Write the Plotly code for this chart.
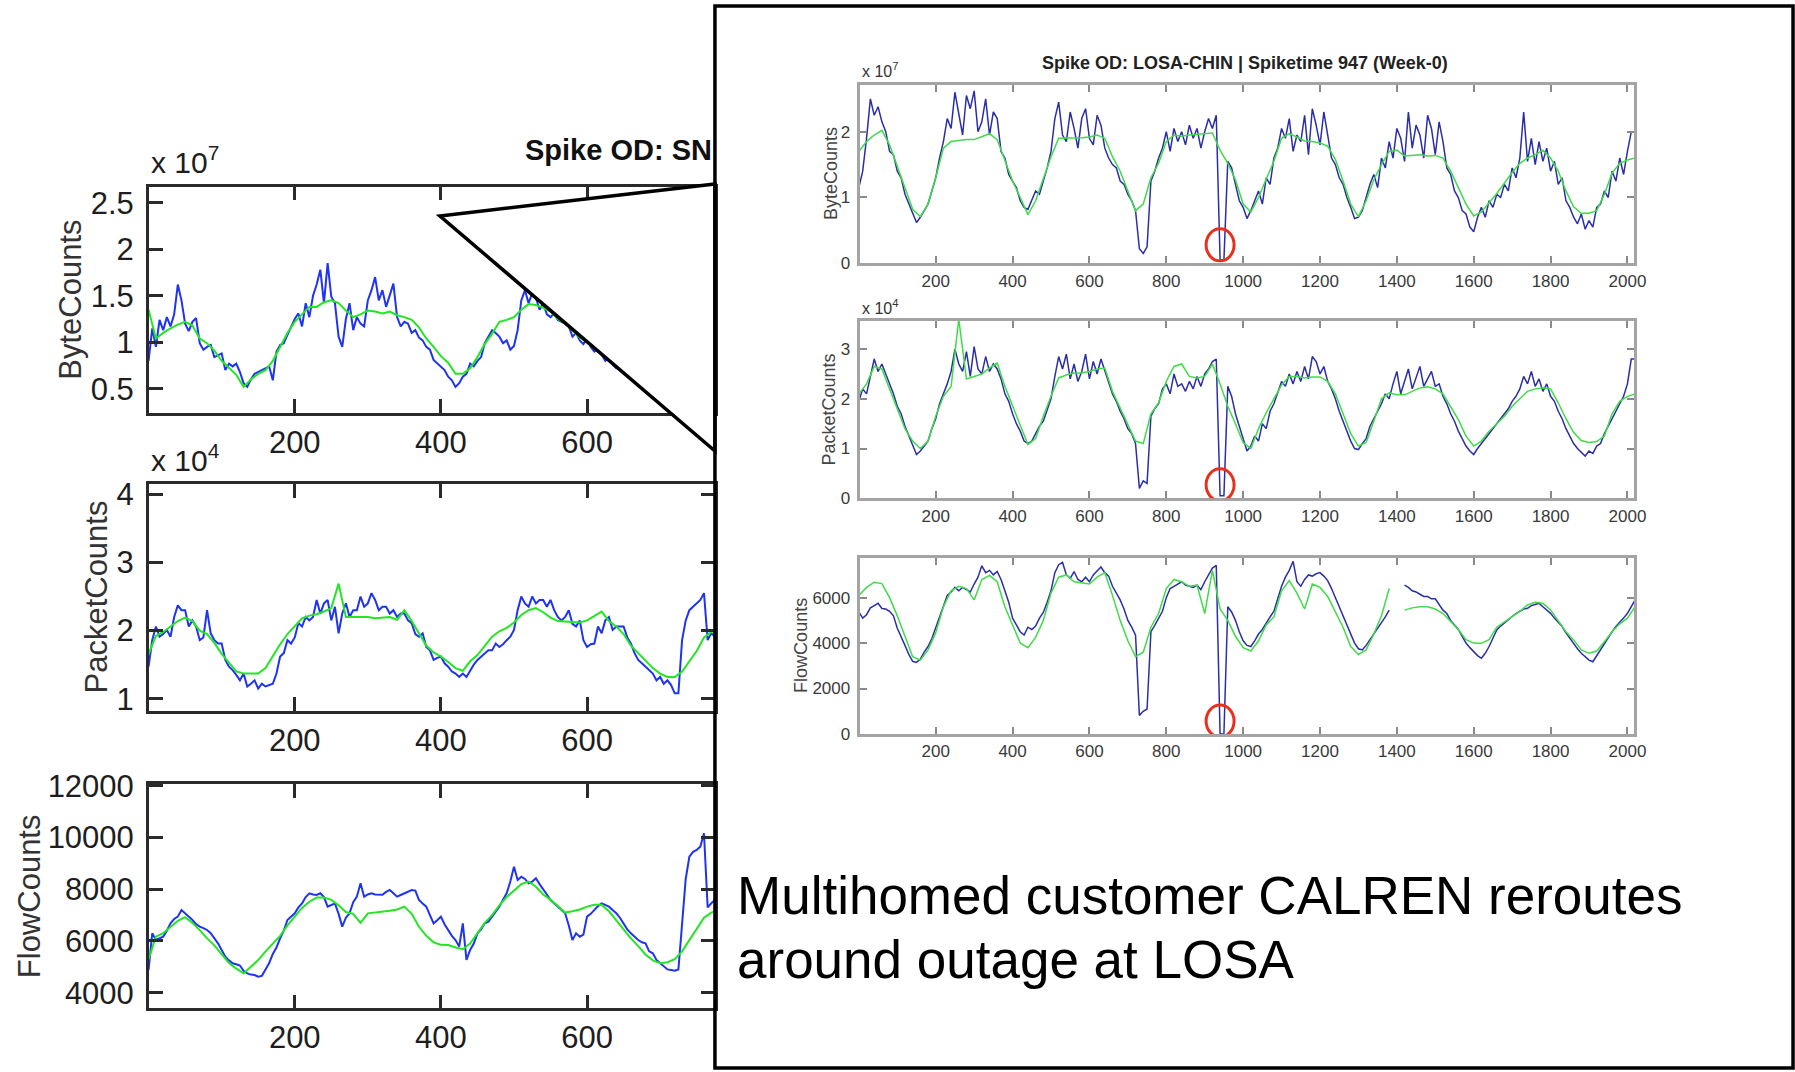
import plotly.graph_objects as go

FONT = "Liberation Sans, Arial, sans-serif"

# ---------------- left OD (traffic shifted onto it), time bins 0..775 ----------------
LEFT_BLUE_STEP = 5
LEFT_GREEN_STEP = 10

# ByteCounts (x 10^7)
left_byte_actual = [
    0.80, 1.15, 0.95, 1.24, 1.13, 1.27, 1.17, 1.30, 1.62, 1.45,
    1.20, 1.12, 1.22, 1.26, 0.99, 0.92, 0.95, 0.97, 0.84, 0.86,
    0.88, 0.70, 0.77, 0.74, 0.77, 0.68, 0.56, 0.52, 0.60, 0.66,
    0.68, 0.70, 0.72, 0.74, 0.59, 0.90, 0.97, 0.99, 1.08, 1.17,
    1.25, 1.31, 1.17, 1.42, 1.27, 1.50, 1.62, 1.78, 1.42, 1.85,
    1.49, 1.42, 1.06, 0.95, 1.25, 1.42, 1.13, 1.27, 1.20, 1.17,
    1.45, 1.56, 1.70, 1.45, 1.56, 1.38, 1.50, 1.63, 1.27, 1.17,
    1.22, 1.20, 1.10, 1.13, 1.05, 1.02, 0.95, 0.92, 0.81, 0.77,
    0.74, 0.70, 0.63, 0.59, 0.52, 0.56, 0.63, 0.66, 0.77, 0.74,
    0.80, 0.84, 0.99, 1.06, 1.13, 1.10, 1.06, 0.99, 1.02, 0.92,
    0.96, 1.13, 1.45, 1.56, 1.42, 1.53, 1.48, 1.35, 1.42, 1.30,
    1.27, 1.31, 1.24, 1.22, 1.20, 1.17, 1.06, 1.10, 1.02, 0.98,
    1.04, 0.95, 0.90, 0.93, 0.86, 0.80, 0.84, 0.76, 0.72, 0.75,
    0.68, 0.70, 0.64, 0.66, 0.60, 0.63, 0.58, 0.60, 0.55, 0.57,
    0.52, 0.55, 0.50, 0.53, 0.48, 0.52, 0.80, 1.10, 1.30, 1.35,
    1.40, 1.45, 1.20, 1.10, 1.15, 1.18,
]
left_byte_predicted = [
    1.35, 1.04, 1.10, 1.15, 1.19, 1.22, 1.18, 1.04, 0.99, 0.91,
    0.80, 0.72, 0.65, 0.52, 0.60, 0.66, 0.70, 0.80, 0.95, 1.10,
    1.22, 1.30, 1.38, 1.38, 1.43, 1.45, 1.42, 1.34, 1.27, 1.30,
    1.34, 1.33, 1.31, 1.33, 1.29, 1.27, 1.24, 1.16, 1.04, 0.95,
    0.85, 0.78, 0.66, 0.66, 0.72, 0.84, 0.98, 1.09, 1.22, 1.24,
    1.27, 1.35, 1.41, 1.40, 1.37, 1.33, 1.25, 1.20, 1.12, 1.05,
    1.00, 0.95, 0.90, 0.85, 0.80, 0.74, 0.70, 0.66, 0.62, 0.60,
    0.58, 0.55, 0.54, 0.62, 0.72, 0.85, 0.95, 1.02, 1.08,
]

# PacketCounts (x 10^4)
left_packet_actual = [
    1.47, 1.86, 2.06, 1.91, 1.95, 2.01, 1.91, 2.20, 2.37, 2.30,
    2.30, 2.06, 2.15, 2.06, 1.86, 1.90, 2.30, 1.96, 1.86, 1.81,
    1.81, 1.57, 1.47, 1.42, 1.35, 1.27, 1.37, 1.18, 1.22, 1.27,
    1.15, 1.22, 1.18, 1.20, 1.22, 1.37, 1.62, 1.67, 1.86, 1.81,
    1.90, 2.11, 2.06, 2.20, 2.15, 2.20, 2.45, 2.25, 2.40, 2.45,
    2.15, 2.35, 1.96, 2.25, 2.40, 2.20, 2.30, 2.30, 2.50, 2.35,
    2.40, 2.55, 2.45, 2.30, 2.35, 2.35, 2.25, 2.30, 2.20, 2.25,
    2.25, 2.15, 2.11, 1.95, 1.91, 1.96, 1.76, 1.71, 1.57, 1.60,
    1.62, 1.52, 1.47, 1.40, 1.37, 1.32, 1.37, 1.32, 1.42, 1.50,
    1.57, 1.62, 1.67, 1.71, 1.71, 1.81, 1.76, 1.80, 1.86, 1.91,
    2.01, 2.30, 2.50, 2.40, 2.35, 2.50, 2.40, 2.45, 2.45, 2.35,
    2.45, 2.30, 2.20, 2.15, 2.20, 2.30, 2.10, 2.06, 2.15, 1.86,
    1.76, 1.80, 1.81, 2.06, 1.96, 2.15, 2.20, 2.01, 2.06, 2.06,
    2.06, 1.90, 1.81, 1.67, 1.57, 1.52, 1.47, 1.42, 1.37, 1.27,
    1.32, 1.22, 1.27, 1.20, 1.08, 1.08, 1.86, 2.15, 2.30, 2.35,
    2.40, 2.45, 2.55, 1.86, 1.96, 1.91,
]
left_packet_predicted = [
    1.66, 1.92, 1.98, 2.06, 2.14, 2.19, 2.14, 2.00, 1.95, 1.82,
    1.66, 1.53, 1.40, 1.37, 1.37, 1.37, 1.45, 1.63, 1.80, 1.95,
    2.07, 2.18, 2.22, 2.24, 2.28, 2.33, 2.69, 2.20, 2.20, 2.20,
    2.20, 2.18, 2.19, 2.20, 2.16, 2.30, 2.14, 1.95, 1.78, 1.68,
    1.62, 1.54, 1.45, 1.41, 1.55, 1.64, 1.78, 1.91, 1.99, 2.04,
    2.12, 2.23, 2.30, 2.33, 2.27, 2.19, 2.14, 2.13, 2.12, 2.12,
    2.15, 2.22, 2.28, 2.14, 2.06, 1.95, 1.78, 1.67, 1.56, 1.45,
    1.37, 1.32, 1.32, 1.40, 1.55, 1.70, 1.90, 1.98, 2.00,
]

# FlowCounts
left_flow_actual = [
    4878, 6297, 6039, 6100, 6168, 6400, 6684, 6850, 6942, 7200,
    7071, 6950, 6813, 6650, 6555, 6500, 6426, 6300, 6100, 5910,
    5650, 5394, 5250, 5136, 5100, 5050, 4850, 4748, 4700, 4684,
    4619, 4650, 4900, 5150, 5500, 5750, 6100, 6400, 6813, 6950,
    7071, 7300, 7458, 7700, 7845, 7800, 7781, 7845, 7700, 7329,
    7400, 7458, 7050, 6555, 6900, 7071, 7500, 7716, 8232, 7716,
    7800, 7845, 7800, 7781, 7790, 7900, 7974, 7850, 7716, 7780,
    7845, 7900, 7974, 7950, 7587, 7450, 7329, 7000, 6684, 6800,
    6942, 6650, 6426, 6200, 6039, 5781, 6684, 5265, 5652, 5900,
    6297, 6450, 6684, 6750, 6942, 7150, 7329, 7600, 7845, 8300,
    8877, 8361, 8490, 8400, 8232, 8300, 8426, 8200, 7974, 7800,
    7587, 7450, 7329, 7200, 7071, 6600, 6039, 6297, 6168, 6250,
    6942, 7050, 7200, 7350, 7458, 7400, 7329, 7200, 7071, 6900,
    6684, 6450, 6297, 6150, 6039, 5950, 5910, 5600, 5523, 5265,
    5150, 5006, 4900, 4878, 4850, 4900, 6800, 8400, 9265, 9450,
    9523, 9652, 10168, 7300, 7458, 7587,
]
left_flow_predicted = [
    5300, 6168, 6300, 6555, 6780, 6920, 6700, 6420, 6100, 5830,
    5500, 5150, 4930, 4750, 5000, 5260, 5600, 5900, 6200, 6600,
    6950, 7280, 7520, 7680, 7680, 7590, 7380, 7120, 7050, 6700,
    7070, 7100, 7130, 7170, 7220, 7330, 7050, 6550, 6200, 5950,
    5850, 5840, 5750, 5680, 5900, 6300, 6700, 7000, 7380, 7700,
    7970, 8200, 8300, 8100, 7800, 7600, 7350, 7100, 7150, 7220,
    7330, 7400, 7400, 7150, 6800, 6450, 6100, 5800, 5480, 5250,
    5140, 5180, 5300, 5600, 6050, 6500, 6900, 7100, 7200,
]

# ---------------- LOSA-CHIN OD, one week of bins 0..2020 ----------------
RIGHT_BLUE_STEP = 10
RIGHT_GREEN_STEP = 20
SPIKE_TIME = 947

# ByteCounts (x 10^7)
right_byte_actual = [
    1.15, 1.40, 1.90, 2.50, 2.25, 2.38, 2.15, 2.00, 1.70, 1.65,
    1.40, 1.30, 1.05, 0.90, 0.75, 0.62, 0.70, 0.80, 0.90, 1.10,
    1.30, 1.60, 1.85, 2.20, 2.05, 2.60, 2.25, 1.95, 2.55, 2.35,
    2.62, 2.00, 2.15, 2.50, 1.95, 2.30, 2.20, 1.70, 1.60, 1.35,
    1.25, 1.15, 0.95, 0.85, 0.82, 0.95, 1.10, 1.05, 1.25, 1.45,
    1.70, 2.20, 2.45, 1.95, 1.85, 2.30, 2.05, 1.75, 2.20, 2.35,
    1.90, 1.80, 2.25, 2.10, 1.75, 1.60, 1.50, 1.45, 1.25, 1.20,
    1.05, 0.95, 0.80, 0.22, 0.15, 0.25, 1.25, 1.40, 1.60, 1.75,
    2.00, 1.70, 2.05, 1.85, 2.00, 1.80, 2.10, 1.90, 2.05, 1.75,
    2.00, 2.20, 2.05, 2.25, 0.05, 0.05, 1.55, 1.45, 1.20, 0.95,
    0.85, 0.68, 0.80, 0.95, 1.10, 0.90, 1.30, 1.20, 1.60, 1.75,
    2.05, 1.90, 2.20, 1.70, 1.95, 1.85, 2.25, 1.65, 2.35, 2.10,
    1.80, 2.30, 1.95, 1.60, 1.50, 1.30, 1.20, 1.00, 0.85, 0.68,
    0.70, 0.80, 1.00, 1.20, 1.35, 1.15, 1.60, 1.45, 1.85, 1.60,
    2.05, 1.90, 1.55, 2.30, 1.75, 2.10, 1.95, 1.60, 2.25, 2.05,
    1.65, 2.15, 1.85, 1.45, 1.35, 1.10, 1.00, 0.80, 0.75, 0.55,
    0.48, 0.70, 0.85, 0.70, 0.95, 0.85, 1.05, 1.00, 1.20, 1.10,
    1.45, 1.30, 1.60, 2.30, 1.55, 1.90, 1.50, 1.85, 1.55, 1.75,
    1.40, 1.55, 1.20, 1.30, 0.95, 0.85, 0.70, 0.60, 0.75, 0.52,
    0.65, 0.55, 0.85, 0.90, 1.10, 1.00, 1.40, 1.25, 1.60, 1.35,
    1.70, 2.00, 2.00,
]
right_byte_predicted = [
    1.70, 1.85, 1.95, 2.02, 1.80, 1.47, 1.14, 0.82, 0.71, 0.90,
    1.30, 1.75, 1.85, 1.87, 1.88, 1.88, 1.92, 1.97, 1.88, 1.55,
    1.25, 1.00, 0.74, 0.95, 1.28, 1.62, 1.90, 1.90, 1.90, 1.91,
    1.92, 1.95, 1.90, 1.62, 1.40, 1.11, 0.80, 0.90, 1.30, 1.52,
    1.85, 1.95, 1.93, 1.95, 1.96, 1.97, 1.98, 1.72, 1.52, 1.27,
    0.90, 0.78, 1.00, 1.28, 1.55, 1.90, 1.97, 1.92, 1.86, 1.85,
    1.83, 1.78, 1.58, 1.25, 0.90, 0.71, 0.95, 1.27, 1.50, 1.70,
    1.72, 1.63, 1.64, 1.65, 1.63, 1.64, 1.60, 1.40, 1.15, 0.90,
    0.72, 0.78, 0.92, 1.06, 1.22, 1.38, 1.52, 1.60, 1.65, 1.72,
    1.60, 1.40, 1.10, 0.86, 0.76, 0.76, 0.80, 1.05, 1.37, 1.52,
    1.57, 1.60,
]

# PacketCounts (x 10^4)
right_packet_actual = [
    1.95, 2.20, 2.10, 2.45, 2.80, 2.55, 2.70, 2.50, 2.30, 2.10,
    1.85, 1.70, 1.45, 1.25, 1.05, 0.88, 0.95, 1.05, 1.15, 1.40,
    1.60, 1.90, 2.10, 2.30, 2.55, 3.00, 2.70, 2.55, 2.95, 2.45,
    3.05, 2.60, 2.50, 2.85, 2.55, 2.70, 2.60, 2.40, 2.10, 1.95,
    1.70, 1.50, 1.35, 1.15, 1.10, 1.15, 1.30, 1.45, 1.55, 1.80,
    2.00, 2.45, 2.85, 2.60, 2.90, 2.40, 2.70, 2.35, 2.55, 2.90,
    2.40, 2.75, 2.50, 2.80, 2.55, 2.30, 2.10, 1.95, 1.75, 1.60,
    1.40, 1.30, 1.10, 0.20, 0.35, 0.30, 1.65, 1.80, 1.90, 2.20,
    2.30, 2.10, 2.50, 2.25, 2.30, 2.15, 2.35, 2.20, 2.45, 2.25,
    2.50, 2.60, 2.75, 2.80, 0.05, 0.05, 2.25, 2.05, 1.70, 1.45,
    1.20, 0.95, 1.05, 1.25, 1.15, 1.50, 1.40, 1.75, 1.90, 2.15,
    2.35, 2.25, 2.50, 2.30, 2.55, 2.35, 2.65, 2.40, 2.85, 2.75,
    2.50, 2.65, 2.35, 2.20, 2.00, 1.75, 1.55, 1.35, 1.15, 1.00,
    0.98, 1.10, 1.20, 1.45, 1.60, 1.75, 1.90, 2.10, 2.00, 2.30,
    2.55, 2.10, 2.35, 2.60, 2.20, 2.45, 2.65, 2.25, 2.40, 2.55,
    2.25, 2.30, 2.05, 1.90, 1.70, 1.55, 1.35, 1.20, 1.05, 0.95,
    0.88, 1.00, 1.10, 1.20, 1.30, 1.40, 1.50, 1.60, 1.70, 1.80,
    1.95, 2.05, 2.20, 2.45, 2.30, 2.55, 2.25, 2.40, 2.15, 2.30,
    2.05, 1.95, 1.75, 1.60, 1.40, 1.25, 1.10, 1.00, 0.92, 0.85,
    0.95, 0.90, 1.05, 1.10, 1.30, 1.45, 1.60, 1.75, 1.90, 2.05,
    2.30, 2.80, 2.80,
]
right_packet_predicted = [
    2.10, 2.30, 2.65, 2.60, 2.20, 1.80, 1.40, 1.15, 1.00, 1.15,
    1.65, 2.05, 2.25, 3.60, 2.40, 2.45, 2.50, 2.62, 2.72, 2.25,
    1.85, 1.45, 1.08, 1.20, 1.65, 2.05, 2.42, 2.48, 2.52, 2.52,
    2.55, 2.60, 2.62, 2.15, 1.82, 1.50, 1.15, 1.10, 1.70, 1.92,
    2.35, 2.65, 2.70, 2.45, 2.42, 2.45, 2.70, 2.30, 1.85, 1.50,
    1.12, 1.00, 1.40, 1.72, 2.00, 2.28, 2.45, 2.45, 2.42, 2.44,
    2.44, 2.35, 2.10, 1.70, 1.30, 1.05, 1.12, 1.55, 2.00, 2.12,
    2.08, 2.08, 2.15, 2.22, 2.24, 2.20, 2.10, 1.85, 1.58, 1.25,
    1.05, 1.15, 1.35, 1.50, 1.65, 1.85, 2.00, 2.15, 2.20, 2.22,
    2.20, 1.92, 1.60, 1.32, 1.16, 1.12, 1.14, 1.25, 1.70, 1.95,
    2.05, 2.10,
]

# FlowCounts (None = missing measurement bins)
right_flow_actual = [
    5370, 5100, 5250, 5550, 5650, 5750, 5520, 5500, 5400, 5200,
    4650, 4300, 3900, 3500, 3200, 3150, 3300, 3600, 3850, 4200,
    4700, 5200, 5700, 6100, 6250, 6450, 6300, 6450, 6350, 6250,
    6600, 6900, 7400, 7100, 7200, 7000, 7150, 6800, 6300, 5800,
    5100, 4800, 4500, 4350, 4700, 4600, 4750, 5100, 5350, 5800,
    6300, 7100, 7450, 7550, 7000, 6850, 7150, 6800, 6700, 6900,
    6700, 7000, 7200, 7350, 7100, 6950, 6500, 6200, 5900, 5500,
    5000, 4700, 4350, 820, 1000, 1100, 4500, 4780, 5100, 5400,
    6000, 6400, 6500, 6600, 6700, 6550, 6500, 6450, 6550, 6350,
    6700, 7000, 7300, 7420, 0, 0, 5600, 5370, 5000, 4500,
    4100, 3900, 3850, 4100, 4400, 4600, 4900, 5150, 5400, 6000,
    6500, 6900, 7200, 7600, 6700, 6500, 6800, 7000, 6950, 7050,
    7100, 6950, 6750, 6400, 6000, 5600, 5200, 4800, 4400, 4000,
    3750, 3700, 3900, 4150, 4400, 4600, 4900, 5150, 5450, None,
    None, None, 6550, 6450, 6300, 6250, 6150, 6050, 6050, 5950,
    5950, 5700, 5450, 5300, 5000, 4800, 4600, 4300, 4000, 3800,
    3620, 3450, 3330, 3550, 3850, 4200, 4580, 4750, 4900, 5050,
    5170, 5300, 5400, 5500, 5530, 5650, 5700, 5750, 5600, 5450,
    5310, 5100, 4900, 4730, 4450, 4200, 3990, 3750, 3550, 3400,
    3250, 3180, 3450, 3750, 3990, 4250, 4500, 4730, 4900, 5100,
    5310, 5600, 5900,
]
right_flow_predicted = [
    6100, 6450, 6680, 6620, 6000, 5200, 4300, 3400, 3250, 3700,
    4450, 5600, 6300, 6500, 6400, 5900, 6800, 6980, 6700, 5600,
    4800, 4000, 3800, 4250, 5000, 6200, 6900, 7000, 6700, 6650,
    6600, 6900, 7100, 6100, 5000, 4100, 3400, 3600, 4700, 5300,
    6400, 6800, 6700, 6500, 6550, 5300, 7200, 5500, 5000, 4300,
    3800, 3650, 4100, 4800, 5150, 6300, 6750, 6200, 5500, 6600,
    6450, 6050, 5400, 4700, 3850, 3500, 3700, 4400, 5200, 6400,
    None, 5450, 5550, 5600, 5600, 5500, 5300, 4950, 4600, 4150,
    4000, 3990, 4150, 4700, 4950, 5170, 5400, 5680, 5800, 5750,
    5460, 5000, 4500, 4140, 3700, 3550, 3650, 4060, 4500, 4850,
    5100, 5600,
]

# highlighted outage near the spike time: (panel, count value at circle centre)
spike_marks = [("4", 0.28), ("5", 0.27), ("6", 570)]
SPIKE_MARK_X = 940

LEFT_BLUE, LEFT_GREEN = "#1f33f2", "#22e622"
RIGHT_BLUE, RIGHT_GREEN = "#2b2fa6", "#3fdc48"


def grid(values, step):
    return [i * step for i in range(len(values))]


fig = go.Figure()


def add_pair(actual, predicted, bstep, gstep, ax, blue, green, width):
    fig.add_trace(go.Scatter(x=grid(actual, bstep), y=actual, mode="lines",
                             line=dict(color=blue, width=width),
                             xaxis="x" + ax, yaxis="y" + ax, connectgaps=False,
                             hoverinfo="skip"))
    fig.add_trace(go.Scatter(x=grid(predicted, gstep), y=predicted, mode="lines",
                             line=dict(color=green, width=width),
                             xaxis="x" + ax, yaxis="y" + ax, connectgaps=False,
                             hoverinfo="skip"))


add_pair(left_byte_actual, left_byte_predicted, LEFT_BLUE_STEP, LEFT_GREEN_STEP, "", LEFT_BLUE, LEFT_GREEN, 2)
add_pair(left_packet_actual, left_packet_predicted, LEFT_BLUE_STEP, LEFT_GREEN_STEP, "2", LEFT_BLUE, LEFT_GREEN, 2)
add_pair(left_flow_actual, left_flow_predicted, LEFT_BLUE_STEP, LEFT_GREEN_STEP, "3", LEFT_BLUE, LEFT_GREEN, 2)
add_pair(right_byte_actual, right_byte_predicted, RIGHT_BLUE_STEP, RIGHT_GREEN_STEP, "4", RIGHT_BLUE, RIGHT_GREEN, 1.5)
add_pair(right_packet_actual, right_packet_predicted, RIGHT_BLUE_STEP, RIGHT_GREEN_STEP, "5", RIGHT_BLUE, RIGHT_GREEN, 1.5)
add_pair(right_flow_actual, right_flow_predicted, RIGHT_BLUE_STEP, RIGHT_GREEN_STEP, "6", RIGHT_BLUE, RIGHT_GREEN, 1.5)

LX = [0.0829, 0.3983]
RX = [0.4789, 0.9105]

left_axis = dict(showline=True, linecolor="#2a2a2a", linewidth=2.5, mirror="allticks",
                 ticks="inside", ticklen=14, tickwidth=2.5, tickcolor="#2a2a2a",
                 showgrid=False, zeroline=False, automargin=False,
                 tickfont=dict(family=FONT, size=31, color="#1e1e1e"))
right_axis = dict(showline=True, linecolor="#a4a4a4", linewidth=3, mirror="allticks",
                  ticks="inside", ticklen=7, tickwidth=1.5, tickcolor="#8a8a8a",
                  showgrid=False, zeroline=False, automargin=False,
                  tickfont=dict(family=FONT, size=17, color="#3a3a3a"))

layout_axes = {}
left_rows = [("", [0.615, 0.8258], [0.242, 2.672], [0.5, 1, 1.5, 2, 2.5], ["0.5", "1", "1.5", "2", "2.5"]),
             ("2", [0.337, 0.5482], [0.824, 4.147], [1, 2, 3, 4], ["1", "2", "3", "4"]),
             ("3", [0.0594, 0.2687], [3394, 12077], [4000, 6000, 8000, 10000, 12000],
              ["4000", "6000", "8000", "10000", "12000"])]
for ax, ydom, yr, tv, tt in left_rows:
    layout_axes["xaxis" + ax] = dict(left_axis, domain=LX, anchor="y" + ax, range=[0.3, 775],
                                     tickvals=[200, 400, 600], ticktext=["200", "400", "600"])
    layout_axes["yaxis" + ax] = dict(left_axis, domain=ydom, anchor="x" + ax, range=yr,
                                     tickvals=tv, ticktext=tt, ticklabelstandoff=6)

right_rows = [("4", [0.7544, 0.9207], [0, 2.71], [0, 1, 2]),
              ("5", [0.5352, 0.7008], [0, 3.57], [0, 1, 2, 3]),
              ("6", [0.3153, 0.4798], [0, 7760], [0, 2000, 4000, 6000])]
xt = list(range(200, 2001, 200))
for ax, ydom, yr, tv in right_rows:
    layout_axes["xaxis" + ax] = dict(right_axis, domain=RX, anchor="y" + ax, range=[2, 2018],
                                     tickvals=xt, ticktext=[str(v) for v in xt])
    layout_axes["yaxis" + ax] = dict(right_axis, domain=ydom, anchor="x" + ax, range=yr,
                                     tickvals=tv, ticktext=[str(v) for v in tv], ticklabelstandoff=3)

annotations = []


def note(text, x, y, size, xanchor="center", yanchor="middle", angle=0, bold=False, color="#1e1e1e"):
    if bold:
        text = "<b>" + text + "</b>"
    annotations.append(dict(text=text, x=x, y=y, xref="paper", yref="paper", showarrow=False,
                            xanchor=xanchor, yanchor=yanchor, textangle=angle,
                            font=dict(family=FONT, size=size, color=color)))


# left panel labels
note("x 10<sup>7</sup>", 0.0829, 0.8507, 30, xanchor="left")
note("x 10<sup>4</sup>", 0.0829, 0.5728, 30, xanchor="left")
note("Spike OD: SN", 0.3975, 0.860, 29, xanchor="right", bold=True, color="#111")
note("ByteCounts", 71 / 1795, 0.7204, 31, angle=-90, color="#333")
note("PacketCounts", 97 / 1795, 0.4426, 31, angle=-90, color="#333")
note("FlowCounts", 29 / 1795, 0.1640, 31, angle=-90, color="#333")

# inset panel labels
note("Spike OD: LOSA-CHIN | Spiketime 947 (Week-0)", 1245 / 1795, 0.9412, 18, bold=True, color="#222")
note("x 10<sup>7</sup>", 860 / 1795, 0.9347, 16, xanchor="left", color="#333")
note("x 10<sup>4</sup>", 860 / 1795, 0.7139, 16, xanchor="left", color="#333")
note("ByteCounts", 831 / 1795, 0.8376, 18, angle=-90, color="#444")
note("PacketCounts", 829 / 1795, 0.6180, 18, angle=-90, color="#444")
note("FlowCounts", 801 / 1795, 0.3975, 18, angle=-90, color="#444")

note("Multihomed customer CALREN reroutes", 735 / 1795, 0.1642, 53, xanchor="left", color="#000")
note("around outage at LOSA", 735 / 1795, 0.1048, 53, xanchor="left", color="#000")

shapes = [
    # callout wedge linking the left panel to the inset
    dict(type="path", path="M 0.2451,0.7985 L 0.3983,0.8284 L 0.3983,0.5793 Z",
         xref="paper", yref="paper", fillcolor="white", line=dict(color="black", width=3.5),
         layer="above"),
    # inset frame
    dict(type="rect", x0=0.3983, x1=0.9989, y0=0.0037, y1=0.9944, xref="paper", yref="paper",
         line=dict(color="black", width=3.5), fillcolor="rgba(0,0,0,0)", layer="above"),
]
for ax, yv in spike_marks:
    shapes.append(dict(type="circle", xref="x" + ax, yref="y" + ax,
                       xsizemode="pixel", ysizemode="pixel",
                       xanchor=SPIKE_MARK_X, yanchor=yv, x0=-14, x1=14, y0=-16, y1=16,
                       line=dict(color="#e8301c", width=3), layer="above"))

fig.update_layout(width=1795, height=1072, margin=dict(l=0, r=0, t=0, b=0, autoexpand=False),
                  paper_bgcolor="white", plot_bgcolor="white", showlegend=False,
                  annotations=annotations, shapes=shapes, **layout_axes)

fig.write_html("out.html")
